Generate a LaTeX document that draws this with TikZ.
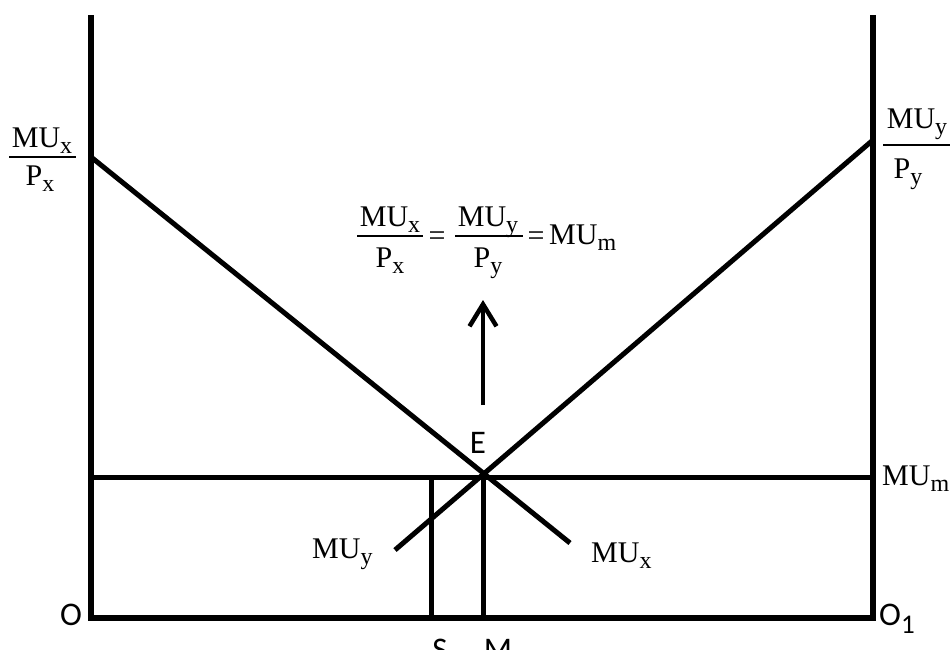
\documentclass[tikz,border=0pt]{standalone}
\usepackage{fontspec}
\setmainfont{Liberation Serif}
\newfontfamily\labfont{Carlito}
\usetikzlibrary{arrows.meta}
\newcommand\sbs[1]{\raisebox{-6.5pt}{\fontsize{24}{24}\selectfont #1}}
\newcommand\sbsans[1]{\raisebox{-8pt}{\fontsize{27}{27}\selectfont #1}}
\begin{document}
\begin{tikzpicture}[x=1pt,y=-1pt,
  axis/.style={line width=5.5pt,line join=miter},
  curve/.style={line width=5pt},
  fbar/.style={line width=1.8pt},
  ser/.style={inner sep=0pt,font=\fontsize{30}{30}\selectfont},
  san/.style={inner sep=0pt,font=\labfont\fontsize{33}{33}\selectfont},
  up/.style={line width=4.5pt,-{Straight Barb[length=22pt,width=27pt]}}]
\useasboundingbox (0,0) rectangle (951,649);
\clip (0,0) rectangle (951,649);
% points
\coordinate (Ltop) at (91,15);
\coordinate (O) at (91,618);
\coordinate (O1) at (873,618);
\coordinate (Rtop) at (873,15);
\coordinate (mL) at (91,477);
\coordinate (mR) at (873,477);
\coordinate (xA) at (91,157);
\coordinate (xB) at (570,543);
\coordinate (yA) at (395,550);
\coordinate (yB) at (873,140);
\coordinate (Stop) at (431,477);
\coordinate (Sbot) at (431,618);
\coordinate (Mtop) at (483,477);
\coordinate (Mbot) at (483,618);
\coordinate (arA) at (483,405);
\coordinate (arB) at (483,300);
% axes and lines
\draw[axis] (Ltop) -- (O) -- (O1) -- (Rtop);
\draw[curve] (mL) -- (mR);
\draw[curve] (xA) -- (xB);
\draw[curve] (yA) -- (yB);
\draw[curve] (Stop) -- (Sbot);
\draw[curve] (Mtop) -- (Mbot);
\draw[up] (arA) -- (arB);
% left fraction
\node[ser,anchor=base] (lnum) at (42,147) {MU\sbs{x}};
\coordinate (lb1) at (9,157); \coordinate (lb2) at (76,157);
\draw[fbar] (lb1) -- (lb2);
\node[ser,anchor=base] (lden) at (40,185) {P\sbs{x}};
% right fraction
\node[ser,anchor=base] (rnum) at (917,128) {MU\sbs{y}};
\coordinate (rb1) at (883,145); \coordinate (rb2) at (950,145);
\draw[fbar] (rb1) -- (rb2);
\node[ser,anchor=base] (rden) at (908,178) {P\sbs{y}};
% equation
\node[ser,anchor=base] (enum1) at (390,226) {MU\sbs{x}};
\coordinate (eb1a) at (357,236); \coordinate (eb1b) at (423,236);
\draw[fbar] (eb1a) -- (eb1b);
\node[ser,anchor=base] (eden1) at (390,267) {P\sbs{x}};
\node[ser,anchor=base] (eq1) at (437,245) {=};
\node[ser,anchor=base] (enum2) at (488,226) {MU\sbs{y}};
\coordinate (eb2a) at (455,236); \coordinate (eb2b) at (523,236);
\draw[fbar] (eb2a) -- (eb2b);
\node[ser,anchor=base] (eden2) at (488,267) {P\sbs{y}};
\node[ser,anchor=base] (eq2) at (536,245) {=};
\node[ser,anchor=base west] (emu) at (549,244) {MU\sbs{m}};
% other labels
\node[ser,anchor=base west] (mum) at (882,485) {MU\sbs{m}};
\node[ser,anchor=base west] (muy) at (312,558) {MU\sbs{y}};
\node[ser,anchor=base west] (mux) at (591,562) {MU\sbs{x}};
\node[san,anchor=base] (E) at (478,453) {E};
\node[san,anchor=base] (Olab) at (71,625) {O};
\node[san,anchor=base west] (O1lab) at (879,625) {O\sbsans{1}};
\node[san,anchor=base] (Slab) at (440,660) {S};
\node[san,anchor=base] (Mlab) at (498,660) {M};
\end{tikzpicture}
\end{document}
